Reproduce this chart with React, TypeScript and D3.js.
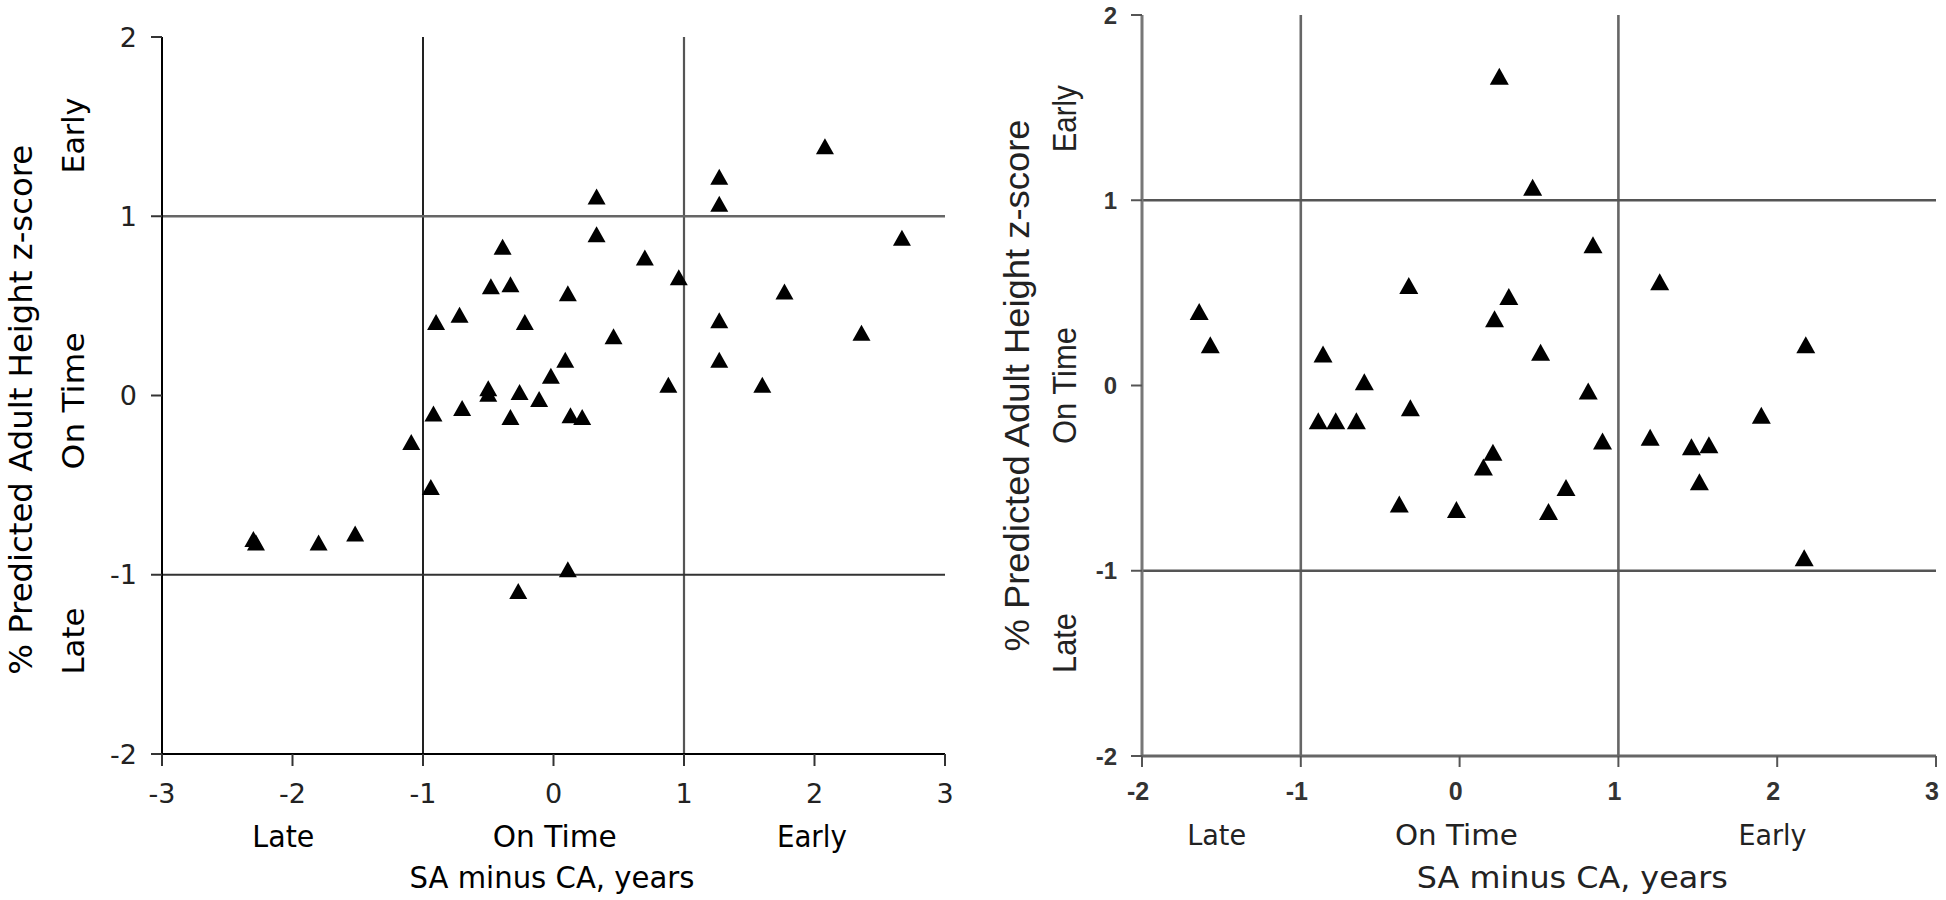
import React from "react";
import * as d3 from "d3";

// ---- Data ----
const leftX = [2.08, 1.27, 1.27, 0.33, 0.33, 2.67, -0.39, 0.70, 0.96, -0.48, -0.33, 0.11, 1.77, -0.72, -0.22, 1.27, 2.36, 0.46, 0.09, 1.27, -0.02, -0.50, -0.50, -0.26, -0.11, 0.88, 1.60, -0.70, -0.33, 0.13, 0.22, -0.90, -0.92, -1.09, -0.94, -2.30, -2.28, -1.80, -1.52, 0.11, -0.27];
const leftY = [1.39, 1.22, 1.07, 1.11, 0.90, 0.88, 0.83, 0.77, 0.66, 0.61, 0.62, 0.57, 0.58, 0.45, 0.41, 0.42, 0.35, 0.33, 0.20, 0.20, 0.11, 0.04, 0.01, 0.02, -0.02, 0.06, 0.06, -0.07, -0.12, -0.11, -0.12, 0.41, -0.10, -0.26, -0.51, -0.80, -0.82, -0.82, -0.77, -0.97, -1.09];

const rightX = [-1.64, -1.57, -0.86, -0.60, -0.32, -0.31, -0.89, -0.78, -0.65, 0.25, 0.46, 0.84, 1.26, 0.31, 0.22, 0.51, 2.18, 0.81, 1.90, 0.90, 1.20, 1.46, 1.57, 1.51, 2.17, 0.21, 0.15, 0.67, 0.56, -0.02, -0.38];
const rightY = [0.40, 0.22, 0.17, 0.02, 0.54, -0.12, -0.19, -0.19, -0.19, 1.67, 1.07, 0.76, 0.56, 0.48, 0.36, 0.18, 0.22, -0.03, -0.16, -0.30, -0.28, -0.33, -0.32, -0.52, -0.93, -0.36, -0.44, -0.55, -0.68, -0.67, -0.64];

const leftXTicks = [-3, -2, -1, 0, 1, 2, 3];
const rightXTicks = [-2, -1, 0, 1, 2, 3];
const yTicks = [-2, -1, 0, 1, 2];
const cutoffs = [-1, 1];
const maturity = ["Late", "On Time", "Early"];
const xTitle = "SA minus CA, years";
const yTitle = "% Predicted Adult Height z-score";

const W = 1946;
const H = 900;

const tri = (cx: number, cy: number, w: number, h: number) =>
  `M${cx},${cy - h / 2}L${cx + w / 2},${cy + h / 2}L${cx - w / 2},${cy + h / 2}Z`;

const fmt = (v: number) => (v < 0 ? "-" + Math.abs(v) : String(v));

export default function App() {
  // Left panel scales
  const xL = d3.scaleLinear().domain([-3, 3]).range([162, 945]);
  const yL = d3.scaleLinear().domain([-2, 2]).range([754, 37]);
  // Right panel scales
  const xR = d3.scaleLinear().domain([-2, 3]).range([1142, 1936]);
  const yR = d3.scaleLinear().domain([-2, 2]).range([756, 15]);

  const dv = "'DejaVu Sans', Verdana, sans-serif";
  const lib = "'Liberation Sans', Arial, sans-serif";

  // left rotated maturity labels y positions (values)
  const leftRotY = [-1.37, -0.03, 1.45];
  const leftRotLen = [67, 137, 76];
  const leftBotX = [-2.07, 0.01, 1.98];
  const leftBotLen = [62, 124, 70];

  const rightRotY = [-1.39, 0.0, 1.44];
  const rightRotLen = [60, 117, 67];
  const rightBotX = [-1.53, -0.02, 1.97];
  const rightBotLen = [59, 123, 68];

  return (
    <svg
      width={W}
      height={H}
      style={{ position: "absolute", left: 0, top: 0, background: "#fff" }}
    >
      <rect x={0} y={0} width={W} height={H} fill="#fff" />

      {/* ================= LEFT PANEL ================= */}
      <g>
        {/* cutoff lines */}
        <line x1={xL(-1)} x2={xL(-1)} y1={yL(2)} y2={yL(-2)} stroke="#222" strokeWidth={2} />
        <line x1={xL(1)} x2={xL(1)} y1={yL(2)} y2={yL(-2)} stroke="#555" strokeWidth={2.2} />
        <line x1={xL(-3)} x2={xL(3)} y1={yL(1)} y2={yL(1)} stroke="#666" strokeWidth={2.4} />
        <line x1={xL(-3)} x2={xL(3)} y1={yL(-1)} y2={yL(-1)} stroke="#333" strokeWidth={2} />
        {/* axes */}
        <line x1={xL(-3)} x2={xL(-3)} y1={yL(2)} y2={yL(-2)} stroke="#000" strokeWidth={2} />
        <line x1={xL(-3)} x2={xL(3)} y1={yL(-2)} y2={yL(-2)} stroke="#000" strokeWidth={2} />
        {yTicks.map((t) => (
          <g key={"lyt" + t}>
            <line x1={xL(-3) - 11} x2={xL(-3)} y1={yL(t)} y2={yL(t)} stroke="#333" strokeWidth={2} />
            <text
              x={137}
              y={yL(t)}
              dy="0.36em"
              textAnchor="end"
              fontFamily={dv}
              fontSize={27}
              fill="#222"
            >
              {fmt(t)}
            </text>
          </g>
        ))}
        {leftXTicks.map((t) => (
          <g key={"lxt" + t}>
            <line x1={xL(t)} x2={xL(t)} y1={yL(-2)} y2={yL(-2) + 12} stroke="#333" strokeWidth={2} />
            <text x={xL(t)} y={803} textAnchor="middle" fontFamily={dv} fontSize={27} fill="#222">
              {fmt(t)}
            </text>
          </g>
        ))}
        {/* points */}
        {leftX.map((x, i) => (
          <path key={"lp" + i} d={tri(xL(x), yL(leftY[i]), 18, 16)} fill="#000" />
        ))}
        {/* y title */}
        <text
          transform={`translate(32,${yL(-0.08)}) rotate(-90)`}
          textAnchor="middle"
          fontFamily={dv}
          fontSize={32}
          textLength={530}
          lengthAdjust="spacingAndGlyphs"
          fill="#000"
        >
          {yTitle}
        </text>
        {maturity.map((m, i) => (
          <text
            key={"lr" + m}
            transform={`translate(84,${yL(leftRotY[i])}) rotate(-90)`}
            textAnchor="middle"
            fontFamily={dv}
            fontSize={31}
            textLength={leftRotLen[i]}
            lengthAdjust="spacingAndGlyphs"
            fill="#000"
          >
            {m}
          </text>
        ))}
        {maturity.map((m, i) => (
          <text
            key={"lb" + m}
            x={xL(leftBotX[i])}
            y={847}
            textAnchor="middle"
            fontFamily={dv}
            fontSize={30}
            textLength={leftBotLen[i]}
            lengthAdjust="spacingAndGlyphs"
            fill="#000"
          >
            {m}
          </text>
        ))}
        <text
          x={552}
          y={888}
          textAnchor="middle"
          fontFamily={dv}
          fontSize={30}
          textLength={285}
          lengthAdjust="spacingAndGlyphs"
          fill="#000"
        >
          {xTitle}
        </text>
      </g>

      {/* ================= RIGHT PANEL ================= */}
      <g>
        {cutoffs.map((c) => (
          <line key={"rv" + c} x1={xR(c)} x2={xR(c)} y1={yR(2)} y2={yR(-2)} stroke="#666" strokeWidth={2.6} />
        ))}
        {cutoffs.map((c) => (
          <line key={"rh" + c} x1={xR(-2)} x2={xR(3)} y1={yR(c)} y2={yR(c)} stroke="#555" strokeWidth={2.4} />
        ))}
        <line x1={xR(-2)} x2={xR(-2)} y1={yR(2)} y2={yR(-2)} stroke="#777" strokeWidth={3} />
        <line x1={xR(-2)} x2={xR(3)} y1={yR(-2)} y2={yR(-2)} stroke="#666" strokeWidth={3} />
        {yTicks.map((t) => (
          <g key={"ryt" + t}>
            <line x1={xR(-2) - 11} x2={xR(-2)} y1={yR(t)} y2={yR(t)} stroke="#555" strokeWidth={2} />
            <text
              x={1117}
              y={yR(t)}
              dy="0.36em"
              textAnchor="end"
              fontFamily={lib}
              fontWeight="bold"
              fontSize={24}
              fill="#333"
            >
              {fmt(t)}
            </text>
          </g>
        ))}
        {rightXTicks.map((t) => (
          <g key={"rxt" + t}>
            <line x1={xR(t)} x2={xR(t)} y1={yR(-2)} y2={yR(-2) + 11} stroke="#555" strokeWidth={2} />
            <text
              x={xR(t) - 4}
              y={800}
              textAnchor="middle"
              fontFamily={lib}
              fontWeight="bold"
              fontSize={25}
              fill="#333"
            >
              {fmt(t)}
            </text>
          </g>
        ))}
        {rightX.map((x, i) => (
          <path key={"rp" + i} d={tri(xR(x), yR(rightY[i]), 19, 17)} fill="#000" />
        ))}
        <text
          transform={`translate(1029,${yR(0)}) rotate(-90)`}
          textAnchor="middle"
          fontFamily={lib}
          fontSize={35}
          textLength={532}
          lengthAdjust="spacingAndGlyphs"
          fill="#222"
        >
          {yTitle}
        </text>
        {maturity.map((m, i) => (
          <text
            key={"rr" + m}
            transform={`translate(1076,${yR(rightRotY[i])}) rotate(-90)`}
            textAnchor="middle"
            fontFamily={lib}
            fontSize={34}
            textLength={rightRotLen[i]}
            lengthAdjust="spacingAndGlyphs"
            fill="#222"
          >
            {m}
          </text>
        ))}
        {maturity.map((m, i) => (
          <text
            key={"rb" + m}
            x={xR(rightBotX[i])}
            y={845}
            textAnchor="middle"
            fontFamily={dv}
            fontSize={29}
            textLength={rightBotLen[i]}
            lengthAdjust="spacingAndGlyphs"
            fill="#222"
          >
            {m}
          </text>
        ))}
        <text
          x={xR(0.71)}
          y={888}
          textAnchor="middle"
          fontFamily={dv}
          fontSize={30}
          textLength={311}
          lengthAdjust="spacingAndGlyphs"
          fill="#222"
        >
          {xTitle}
        </text>
      </g>
    </svg>
  );
}
